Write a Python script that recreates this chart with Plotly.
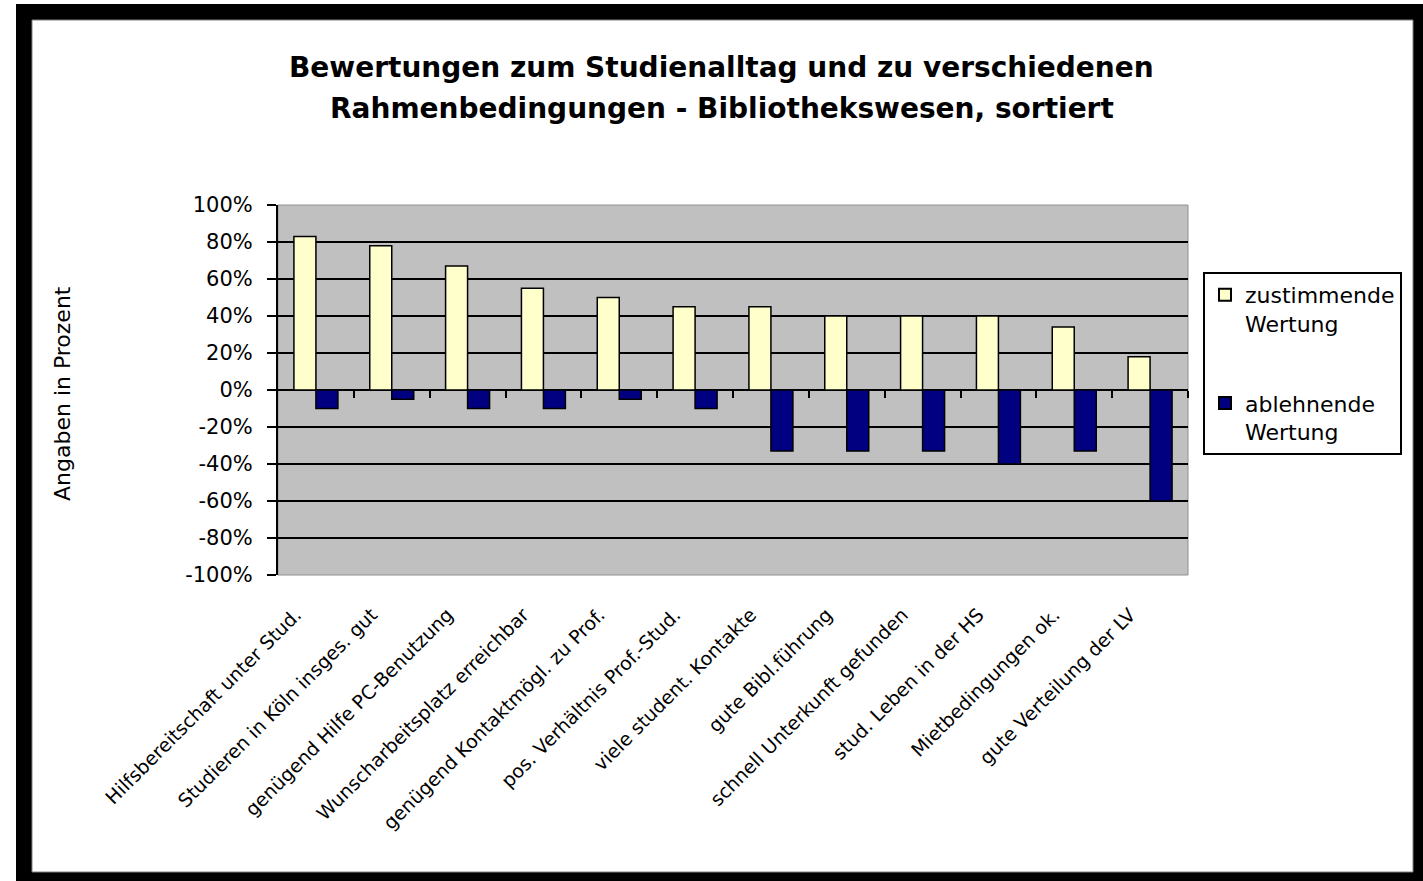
import plotly.graph_objects as go

categories = [
    "Hilfsbereitschaft unter Stud.",
    "Studieren in Köln insges. gut",
    "genügend Hilfe PC-Benutzung",
    "Wunscharbeitsplatz erreichbar",
    "genügend Kontaktmögl. zu Prof.",
    "pos. Verhältnis Prof.-Stud.",
    "viele student. Kontakte",
    "gute Bibl.führung",
    "schnell Unterkunft gefunden",
    "stud. Leben in der HS",
    "Mietbedingungen ok.",
    "gute Verteilung der LV",
]
zustimmend = [0.83, 0.78, 0.67, 0.55, 0.50, 0.45, 0.45, 0.40, 0.40, 0.40, 0.34, 0.18]
ablehnend = [-0.10, -0.05, -0.10, -0.10, -0.05, -0.10, -0.33, -0.33, -0.33, -0.40, -0.33, -0.60]
series_names = ["zustimmende<br>Wertung", "ablehnende<br>Wertung"]
y_tickvals = [1.0, 0.8, 0.6, 0.4, 0.2, 0.0, -0.2, -0.4, -0.6, -0.8, -1.0]
y_ticktext = ["100%", "80%", "60%", "40%", "20%", "0%", "-20%", "-40%", "-60%", "-80%", "-100%"]
boundary_ticks = [i + 0.5 for i in range(len(categories))]

FONT = "DejaVu Sans"
W, H = 1423, 881
L, R, T, B = 278, 1423 - 1188, 205, 881 - 575
PW, PH = W - L - R, H - T - B

def px(x):
    return (x - L) / PW

def py(y):
    return (H - B - y) / PH

fig = go.Figure()
fig.add_trace(go.Bar(
    x=categories, y=zustimmend, name=series_names[0], legendgroup="a",
    marker=dict(color="#FFFFCC", line=dict(color="black", width=1.5)),
))
fig.add_trace(go.Bar(
    x=categories, y=ablehnend, name=series_names[1], legendgroup="b",
    marker=dict(color="#000080", line=dict(color="black", width=1.5)),
))
# empty helper trace so that the overlaying boundary-tick axis is rendered
fig.add_trace(go.Scatter(x=[], y=[], xaxis="x2", yaxis="y", showlegend=False,
                         hoverinfo="skip", mode="markers"))

shapes = [
    dict(type="rect", xref="paper", yref="paper", x0=px(16), x1=px(1440), y0=py(900), y1=py(4),
         fillcolor="black", line=dict(width=0), layer="below"),
    dict(type="rect", xref="paper", yref="paper", x0=px(32), x1=px(1413), y0=py(872), y1=py(20),
         fillcolor="white", line=dict(color="#808080", width=1), layer="below"),
    dict(type="rect", xref="x domain", yref="y domain", x0=0, x1=1, y0=0, y1=1,
         fillcolor="#C0C0C0", line=dict(color="#909090", width=1), layer="below"),
]

annotations = [
    dict(text="<b>Bewertungen zum Studienalltag und zu verschiedenen</b>", xref="paper", yref="paper",
         x=px(721), y=py(67), xanchor="center", yanchor="middle", showarrow=False,
         font=dict(family=FONT, size=28, color="black")),
    dict(text="<b>Rahmenbedingungen - Bibliothekswesen, sortiert</b>", xref="paper", yref="paper",
         x=px(722), y=py(108), xanchor="center", yanchor="middle", showarrow=False,
         font=dict(family=FONT, size=28, color="black")),
    dict(text="Angaben in Prozent", xref="paper", yref="paper", x=px(62), y=py(394),
         xanchor="center", yanchor="middle", textangle=-90, showarrow=False,
         font=dict(family=FONT, size=22, color="black")),
]

fig.update_layout(
    width=W, height=H,
    margin=dict(l=L, r=R, t=T, b=B, pad=0),
    paper_bgcolor="white",
    plot_bgcolor="rgba(0,0,0,0)",
    barmode="group", bargap=0.42, bargroupgap=0,
    font=dict(family=FONT, color="black"),
    shapes=shapes,
    annotations=annotations,
    showlegend=True,
    legend=dict(
        x=px(1203), y=py(272), xanchor="left", yanchor="top",
        bgcolor="white", bordercolor="black", borderwidth=2,
        font=dict(family=FONT, size=22, color="black"),
        tracegroupgap=48, itemsizing="constant", valign="top",
    ),
    xaxis=dict(
        type="category", categoryorder="array", categoryarray=categories,
        range=[-0.5, len(categories) - 0.5],
        tickangle=-45, ticks="", showgrid=False, showline=False, zeroline=False,
        tickfont=dict(family=FONT, size=19, color="black"),
        ticklabelstandoff=24, ticklabelshift=-20,
    ),
    xaxis2=dict(
        overlaying="x", anchor="free", position=0.5, side="bottom",
        range=[-0.5, len(categories) - 0.5], tickmode="array", tickvals=boundary_ticks,
        ticks="outside", ticklen=7, tickwidth=2, tickcolor="black",
        showticklabels=False, showgrid=False, showline=False, zeroline=False,
    ),
    yaxis=dict(
        range=[-1, 1], tickmode="array", tickvals=y_tickvals, ticktext=y_ticktext,
        showgrid=True, gridcolor="black", gridwidth=2,
        zeroline=True, zerolinecolor="black", zerolinewidth=2,
        showline=True, linecolor="black", linewidth=2,
        ticks="outside", ticklen=9, tickwidth=2, tickcolor="black",
        tickfont=dict(family=FONT, size=21, color="black"),
        ticklabelstandoff=10,
    ),
)

fig.write_html(
    "out.html",
    config={"displayModeBar": False},
    post_script="document.body.style.margin='0px';document.body.style.overflow='hidden';",
)
